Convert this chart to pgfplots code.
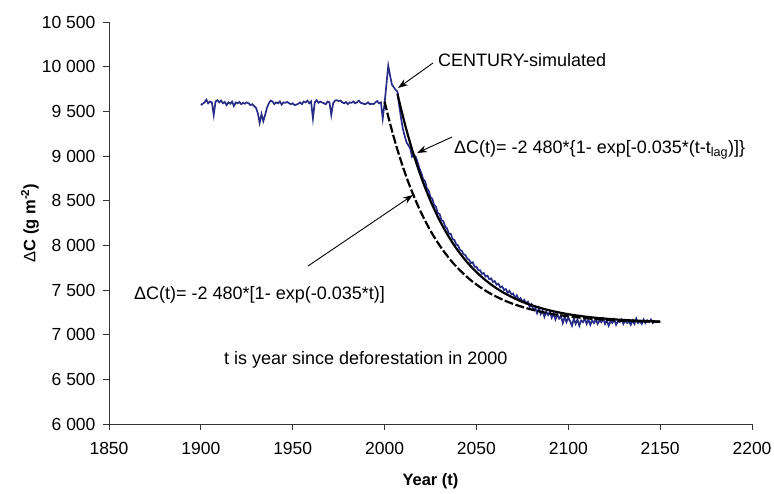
\documentclass[border=0pt]{standalone}
\usepackage{pgfplots}
\pgfplotsset{compat=1.18}
\usepackage{pgfplotstable}
\usepackage{fontspec}
\setmainfont{Liberation Sans}
\usetikzlibrary{arrows.meta}
\definecolor{cblue}{RGB}{40,44,135}

\pgfplotstableread{
year c
1900 9570
1901 9585
1902 9600
1903 9630
1904 9590
1905 9610
1906 9600
1907 9460
1908 9610
1909 9625
1910 9600
1911 9620
1912 9590
1913 9605
1914 9570
1915 9600
1916 9585
1917 9610
1918 9560
1919 9600
1920 9590
1921 9605
1922 9580
1923 9595
1924 9585
1925 9600
1926 9590
1927 9570
1928 9580
1929 9560
1930 9540
1931 9480
1932 9370
1933 9470
1934 9390
1935 9460
1936 9540
1937 9590
1938 9620
1939 9610
1940 9580
1941 9600
1942 9590
1943 9610
1944 9575
1945 9600
1946 9595
1947 9605
1948 9590
1949 9580
1950 9590
1951 9570
1952 9575
1953 9585
1954 9600
1955 9580
1956 9610
1957 9600
1958 9620
1959 9590
1960 9610
1961 9420
1962 9600
1963 9625
1964 9595
1965 9610
1966 9600
1967 9590
1968 9580
1969 9610
1970 9600
1971 9460
1972 9590
1973 9620
1974 9625
1975 9615
1976 9620
1977 9600
1978 9590
1979 9605
1980 9580
1981 9600
1982 9595
1983 9610
1984 9590
1985 9600
1986 9620
1987 9595
1988 9590
1989 9580
1990 9585
1991 9600
1992 9580
1993 9585
1994 9580
1995 9600
1996 9615
1997 9590
1998 9600
1999 9420
2000 9590
2001 9800
2002 10010
2003 9900
2004 9800
2005 9770
2006 9740
2007 9720
2008 9560
2009 9420
2010 9300
2011 9220
2012 9150
2013 9120
2014 9080
2015 8990
2016 9010
2017 8990
2018 8930
2019 8860
2020 8810
2021 8740
2022 8720
2023 8640
2024 8610
2025 8540
2026 8520
2027 8450
2028 8430
2029 8360
2030 8350
2031 8280
2032 8270
2033 8210
2034 8190
2035 8130
2036 8130
2037 8070
2038 8060
2039 8010
2040 8000
2041 7950
2042 7940
2043 7900
2044 7890
2045 7850
2046 7840
2047 7800
2048 7810
2049 7760
2050 7760
2051 7720
2052 7720
2053 7680
2054 7690
2055 7650
2056 7660
2057 7620
2058 7630
2059 7590
2060 7600
2061 7560
2062 7570
2063 7530
2064 7540
2065 7500
2066 7510
2067 7470
2068 7490
2069 7450
2070 7460
2071 7410
2072 7440
2073 7390
2074 7410
2075 7370
2076 7390
2077 7350
2078 7370
2079 7310
2080 7340
2081 7280
2082 7300
2083 7240
2084 7300
2085 7230
2086 7270
2087 7200
2088 7260
2089 7220
2090 7260
2091 7190
2092 7240
2093 7170
2094 7230
2095 7180
2096 7210
2097 7130
2098 7200
2099 7140
2100 7190
2101 7150
2102 7100
2103 7180
2104 7120
2105 7170
2106 7100
2107 7160
2108 7140
2109 7180
2110 7120
2111 7170
2112 7110
2113 7160
2114 7130
2115 7170
2116 7120
2117 7160
2118 7140
2119 7180
2120 7120
2121 7160
2122 7100
2123 7150
2124 7130
2125 7170
2126 7110
2127 7150
2128 7140
2129 7170
2130 7120
2131 7160
2132 7130
2133 7150
2134 7110
2135 7160
2136 7120
2137 7180
2138 7130
2139 7150
2140 7120
2141 7170
2142 7130
2143 7160
2144 7140
2145 7170
2146 7130
2147 7150
2148 7140
2149 7150
2150 7140
}\century

\pgfplotstableread{
year c
2000 9610
2002 9442
2004 9286
2006 9140
2008 9004
2010 8878
2012 8759
2014 8649
2016 8547
2018 8451
2020 8362
2022 8278
2024 8201
2026 8128
2028 8061
2030 7998
2032 7939
2034 7885
2036 7833
2038 7786
2040 7742
2044 7662
2048 7592
2052 7532
2056 7479
2060 7434
2066 7376
2072 7330
2080 7281
2090 7236
2100 7205
2110 7183
2120 7167
2130 7156
2150 7143
}\nolag

\pgfplotstableread{
year c
2007 9698
2008 9610
2010 9442
2012 9286
2014 9140
2016 9004
2018 8878
2020 8759
2022 8649
2024 8547
2026 8451
2028 8362
2030 8278
2032 8201
2034 8128
2036 8061
2038 7998
2040 7939
2042 7885
2044 7833
2046 7786
2048 7742
2052 7662
2056 7592
2060 7532
2064 7479
2068 7434
2074 7376
2080 7330
2088 7281
2098 7236
2108 7205
2118 7183
2128 7167
2138 7156
2150 7147
}\withlag

\begin{document}
\begin{tikzpicture}[x=1pt,y=1pt]
\useasboundingbox (0,0) rectangle (774,493);
\begin{axis}[
  at={(109pt,69pt)}, anchor=south west,
  scale only axis, width=643pt, height=402pt,
  xmin=1850, xmax=2200, ymin=6000, ymax=10500,
  axis x line=bottom, axis y line=left,
  axis line style={-, line width=0.8pt, black!80},
  scaled ticks=false,
  xtick={1850,1900,...,2200},
  ytick={6000,6500,...,10500},
  yticklabels={6 000,6 500,7 000,7 500,8 000,8 500,9 000,9 500,10 000,10 500},
  x tick label style={/pgf/number format/1000 sep={}, yshift=-9pt},
  y tick label style={xshift=-4pt},
  /pgf/number format/assume math mode=true,
  tick align=outside, major tick length=6pt,
  tick style={black!80, line width=0.8pt},
  ticklabel style={font=\fontsize{17.5}{20}\selectfont},
  xlabel={Year (t)},
  ylabel={{\normalfont Δ}C (g m\textsuperscript{-2})},
  xlabel style={at={(axis description cs:0.5,-0.1418)}, anchor=center, font=\bfseries\fontsize{16.5}{19}\selectfont},
  ylabel style={at={(axis description cs:-0.1229,0.5)}, anchor=center, font=\bfseries\fontsize{16.5}{19}\selectfont},
  clip=false
]
\addplot[cblue, line width=1.7pt] table[x=year,y=c]{\century};
\addplot[black, line width=2.2pt, dash pattern=on 9pt off 2.5pt, smooth] table[x=year,y=c]{\nolag};
\addplot[black, line width=2.2pt, smooth] table[x=year,y=c]{\withlag};
\end{axis}
\begin{scope}[every node/.style={inner sep=0pt, anchor=west, font=\fontsize{18}{21}\selectfont}]
\node at (438,433) {CENTURY-simulated};
\node at (454,343) {ΔC(t)= -2 480*\{1- exp[-0.035*(t-t\textsubscript{lag})]\}};
\node at (134,198) {ΔC(t)= -2 480*[1- exp(-0.035*t)]};
\node at (224,133) {t is year since deforestation in 2000};
\end{scope}
\draw[-{Stealth[length=10pt,width=7pt]}, line width=0.9pt] (433,430) -- (398,405);
\draw[-{Stealth[length=10pt,width=7pt]}, line width=0.9pt] (452,356) -- (417,340);
\draw[-{Stealth[length=10pt,width=7pt]}, line width=0.9pt] (308,227) -- (413,298);
\end{tikzpicture}
\end{document}
